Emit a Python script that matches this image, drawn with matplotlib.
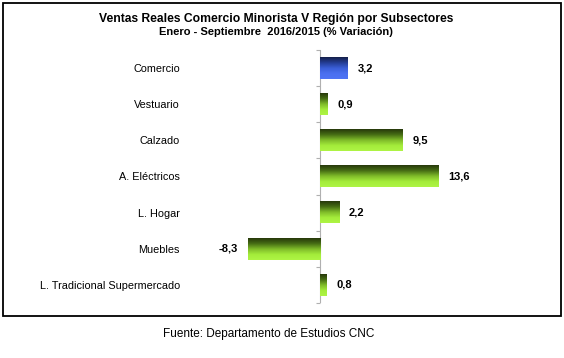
import numpy as np
import matplotlib
matplotlib.use("Agg")
import matplotlib.pyplot as plt
from matplotlib.colors import LinearSegmentedColormap
from matplotlib.patches import Rectangle

plt.rcParams["font.family"] = ["Liberation Sans", "DejaVu Sans"]

categories = ["Comercio", "Vestuario", "Calzado", "A. Eléctricos",
              "L. Hogar", "Muebles", "L. Tradicional Supermercado"]
values = [3.2, 0.9, 9.5, 13.6, 2.2, -8.3, 0.8]
value_labels = ["3,2", "0,9", "9,5", "13,6", "2,2", "-8,3", "0,8"]
highlight = ["Comercio"]

title1 = "Ventas Reales Comercio Minorista V Región por Subsectores"
title2 = "Enero - Septiembre  2016/2015 (% Variación)"
footer = "Fuente: Departamento de Estudios CNC"

green = LinearSegmentedColormap.from_list(
    "g", ["#27390b", "#466d14", "#7fbb29", "#a4ec3b", "#aef444"])
blue = LinearSegmentedColormap.from_list(
    "b", ["#15204b", "#243d94", "#3a5ed6", "#4a6ff0", "#4f74f4"])

fig = plt.figure(figsize=(5.64, 3.58), dpi=100)
ax = fig.add_axes([184 / 564, (358 - 303) / 358, 361 / 564, 253 / 358])

y = np.arange(len(categories))
bars = ax.barh(y, values, height=0.6, color="none", edgecolor="none")

grad = np.linspace(0, 1, 64).reshape(-1, 1)
for cat, b in zip(categories, bars):
    x0, y0, w, h = b.get_x(), b.get_y(), b.get_width(), b.get_height()
    cmap = blue if cat in highlight else green
    ax.imshow(grad, cmap=cmap, aspect="auto", origin="upper",
              extent=(x0, x0 + w, y0 + h, y0), zorder=2)

for v, lab, yi in zip(values, value_labels, y):
    off = 7 if v >= 0 else -7
    ax.annotate(lab, (v, yi), xytext=(off, 0), textcoords="offset points",
                ha="left" if v >= 0 else "right", va="center",
                fontsize=8, fontweight="bold", color="black")

# zero axis line with small ticks at category boundaries
ax.axvline(0, color="#b0b0b0", lw=0.8, zorder=1)
bounds = np.arange(len(categories) + 1) - 0.5
ax.plot(np.zeros_like(bounds), bounds, ls="none", marker=0, ms=3,
        mew=0.8, color="#b0b0b0", clip_on=False)

ax.set_xlim(-136 / 8.68, 225 / 8.68)
ax.set_ylim(len(categories) - 0.5, -0.5)
ax.set_yticks(y)
ax.set_yticklabels(categories, fontsize=7.8)
ax.tick_params(axis="y", length=0, pad=3)
ax.set_xticks([])
for s in ax.spines.values():
    s.set_visible(False)

fig.text(276 / 564, 1 - 19 / 358, title1, ha="center", va="center",
         fontsize=8.75, fontweight="bold")
fig.text(276 / 564, 1 - 32 / 358, title2, ha="center", va="center",
         fontsize=8, fontweight="bold")
fig.text(268.5 / 564, 1 - 334 / 358, footer, ha="center", va="center",
         fontsize=8.5)

fig.patches.append(Rectangle((3 / 564, 1 - 316 / 358), 558 / 564, 313 / 358,
                             transform=fig.transFigure, fill=False,
                             edgecolor="black", lw=1.3))

fig.savefig("out.png", dpi=100)
